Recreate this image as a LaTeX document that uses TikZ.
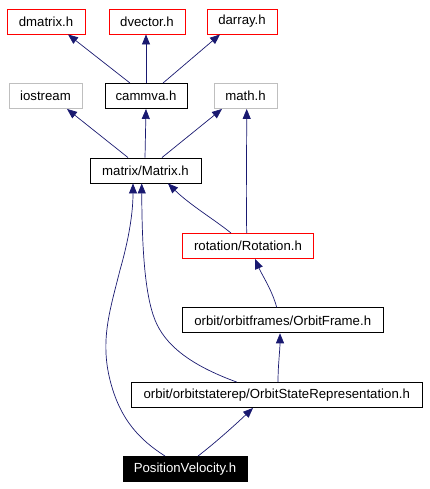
\documentclass[tikz,border=0pt]{standalone}
\usepackage{fontspec}
\setmainfont{Liberation Sans}
\usetikzlibrary{arrows.meta}
\definecolor{edgeblue}{HTML}{191970}
\definecolor{graybd}{HTML}{BFBFBF}
\tikzset{
  box/.style={draw=black, line width=0.9bp, inner sep=0pt, minimum height=25bp, font=\fontsize{13.2bp}{15bp}\selectfont, anchor=center},
  redbox/.style={box, draw=red},
  graybox/.style={box, draw=graybd},
  curbox/.style={box, fill=black, text=white},
  dep/.style={draw=edgeblue, line width=0.7bp, -{Triangle[length=10bp,width=8bp]}, color=edgeblue},
}
\begin{document}
\begin{tikzpicture}[x=1bp,y=-1bp]
\useasboundingbox (0,0) rectangle (429,489);
\node[redbox, minimum width=78bp] (dmatrix) at (46,21.5) {dmatrix.h};
\node[redbox, minimum width=76bp] (dvector) at (147,21.5) {dvector.h};
\node[redbox, minimum width=70bp] (darray) at (242,21.5) {darray.h};
\node[graybox, minimum width=73bp] (iostream) at (45.5,96) {iostream};
\node[box, minimum width=82bp] (cammva) at (146,96) {cammva.h};
\node[graybox, minimum width=63bp] (math) at (245.5,96) {math.h};
\node[box, minimum width=111bp] (matrix) at (145.5,170.5) {matrix/Matrix.h};
\node[redbox, minimum width=131bp] (rotation) at (248,246) {rotation/Rotation.h};
\node[box, minimum width=201bp] (frame) at (282.7,320.3) {orbit/orbitframes/OrbitFrame.h};
\node[box, minimum width=291bp] (osr) at (276.7,395) {orbit/orbitstaterep/OrbitStateRepresentation.h};
\node[curbox, minimum width=124bp] (pv) at (185,469) {PositionVelocity.h};

\draw[dep] (cammva.north -| 130,0) -- (dmatrix.south -| 68,0);
\draw[dep] (cammva.north -| 146,0) -- (dvector.south -| 146,0);
\draw[dep] (cammva.north -| 163,0) -- (darray.south -| 220,0);
\draw[dep] (matrix.north -| 128,0) -- (iostream.south -| 67,0);
\draw[dep] (matrix.north -| 145,0) -- (cammva.south -| 146,0);
\draw[dep] (matrix.north -| 162,0) -- (math.south -| 222,0);
\draw[dep] (rotation.north -| 246.7,0) .. controls (246,190) and (246.7,150) .. (math.south -| 246.7,0);
\draw[dep] (rotation.north -| 231,0) .. controls (215,220) and (190,205) .. (matrix.south -| 168,0);
\draw[dep] (frame.north -| 276.7,0) .. controls (272,290) and (262,275) .. (rotation.south -| 255,0);
\draw[dep] (osr.north -| 278,0) .. controls (278,365) and (280,350) .. (frame.south -| 280,0);
\draw[dep] (osr.north -| 236.7,0) .. controls (190,365) and (165,345) .. (155,320) .. controls (145,295) and (142,250) .. (matrix.south -| 141.7,0);
\draw[dep] (pv.north -| 165,0) .. controls (140,440) and (120,420) .. (110,380) .. controls (100,340) and (110,310) .. (120,270) .. controls (130,235) and (133,210) .. (matrix.south -| 133,0);
\draw[dep] (pv.north -| 198,0) .. controls (215,443) and (235,425) .. (osr.south -| 253,0);
\end{tikzpicture}
\end{document}
